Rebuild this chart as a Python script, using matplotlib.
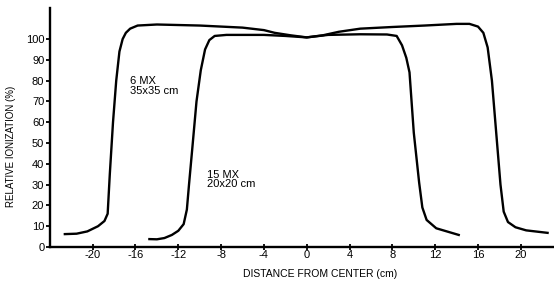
import matplotlib
matplotlib.use("Agg")
import matplotlib.pyplot as plt

plt.rcParams['font.family'] = ['Liberation Sans', 'DejaVu Sans']
plt.rcParams['axes.unicode_minus'] = False

# 6 MX, 35x35 cm field
x_6mx = [-22.6, -21.5, -20.5, -19.5, -18.9, -18.6, -18.4, -18.1, -17.8, -17.5,
         -17.2, -16.9, -16.5, -15.8, -14.0, -10.0, -6.0, -4.0, -3.0, -1.5,
         0.0, 1.5, 3.0, 5.0, 8.0, 11.0, 14.0, 15.2, 16.0, 16.5,
         16.9, 17.3, 17.7, 18.1, 18.4, 18.8, 19.5, 20.5, 22.5]
y_6mx = [6.2, 6.4, 7.5, 10.0, 12.5, 16.0, 35.0, 60.0, 80.0, 94.0,
         100.0, 103.0, 105.0, 106.5, 107.0, 106.5, 105.5, 104.3, 103.0, 101.8,
         100.8, 101.8, 103.5, 105.0, 105.8, 106.5, 107.3, 107.3, 106.0, 103.0,
         96.0, 80.0, 55.0, 30.0, 17.0, 12.0, 9.5, 8.0, 6.8]

# 15 MX, 20x20 cm field
x_15mx = [-14.7, -14.0, -13.3, -12.6, -12.0, -11.5, -11.2, -11.0, -10.7, -10.3, -9.9, -9.5,
          -9.1, -8.6, -7.5, -4.0, -2.0, 0.0, 2.0, 5.0, 7.5, 8.4,
          8.9, 9.3, 9.6, 10.0, 10.5, 10.8, 11.2, 12.1, 14.2]
y_15mx = [3.8, 3.7, 4.3, 5.8, 7.8, 11.0, 18.0, 30.0, 47.0, 70.0, 85.0, 95.0,
          99.5, 101.5, 102.0, 102.0, 101.5, 100.8, 102.0, 102.3, 102.2, 101.5,
          97.0, 91.0, 84.0, 55.0, 31.0, 19.0, 13.0, 9.0, 5.8]

xticks = [-20, -16, -12, -8, -4, 0, 4, 8, 12, 16, 20]
yticks = [0, 10, 20, 30, 40, 50, 60, 70, 80, 90, 100]

fig = plt.figure(figsize=(5.54, 2.81), dpi=100)
ax = fig.add_axes([0.09, 0.121, 0.91, 0.851])

ax.plot(x_6mx, y_6mx, color='black', linewidth=1.7, solid_joinstyle='round')
ax.plot(x_15mx, y_15mx, color='black', linewidth=1.7, solid_joinstyle='round')

ax.text(-16.5, 82, "6 MX\n35x35 cm", fontsize=8, va='top', ha='left', linespacing=0.9)
ax.text(-9.3, 37, "15 MX\n20x20 cm", fontsize=8, va='top', ha='left', linespacing=0.9)

ax.set_xlim(-24, 23.1)
ax.set_ylim(0, 115)
ax.set_xticks(xticks)
ax.set_xticklabels([str(t) for t in xticks])
ax.set_yticks(yticks)

ax.spines['top'].set_visible(False)
ax.spines['right'].set_visible(False)
ax.spines['left'].set_linewidth(1.7)
ax.spines['bottom'].set_linewidth(1.7)
ax.tick_params(axis='x', direction='inout', length=5, width=1.3, labelsize=8, pad=0)
ax.tick_params(axis='y', direction='out', length=3, width=1.3, labelsize=8, pad=1)

ax.set_xlabel("DISTANCE FROM CENTER (cm)", fontsize=7.5)
ax.xaxis.set_label_coords(0.536, -0.09)
ax.set_ylabel("RELATIVE IONIZATION (%)", fontsize=7)
ax.yaxis.set_label_coords(-0.068, 0.42)

fig.savefig("out.png", dpi=100)
